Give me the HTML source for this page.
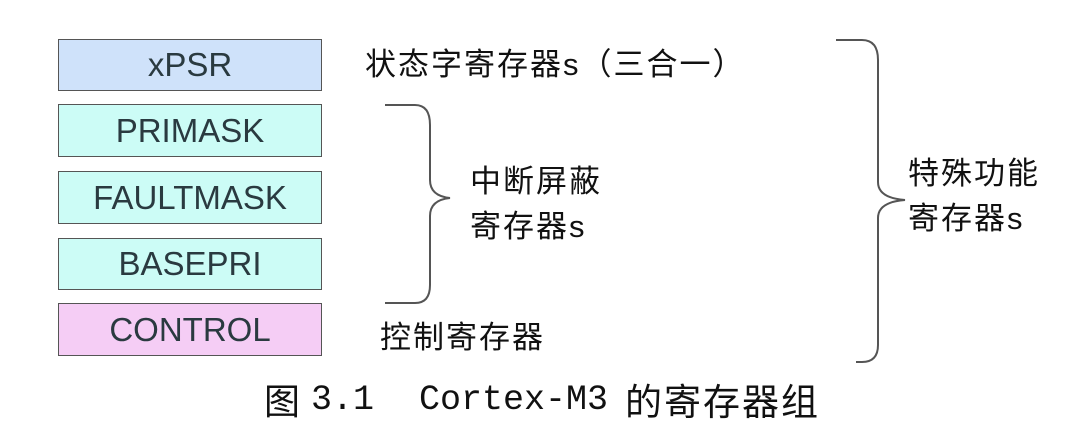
<!DOCTYPE html>
<html><head><meta charset="utf-8"><style>
body{margin:0;width:1078px;height:423px;background:#fff;position:relative;overflow:hidden;font-family:"Liberation Sans","Noto Sans CJK SC",sans-serif}
.b{position:absolute;left:58px;width:262px;border:1.5px solid #555;box-sizing:content-box;text-align:center;font-size:33px;color:#2a3a40}
.t{position:absolute;font-size:31px;letter-spacing:2px;color:#111;white-space:nowrap;line-height:1}
.c{position:absolute;top:381px;line-height:1;white-space:nowrap;color:#111}
</style></head><body>
<div class="b" style="top:39px;height:50px;line-height:50px;background:#cfe2fa">xPSR</div>
<div class="b" style="top:104px;height:51px;line-height:51px;background:#ccfcf6">PRIMASK</div>
<div class="b" style="top:171px;height:51px;line-height:51px;background:#ccfcf6">FAULTMASK</div>
<div class="b" style="top:238px;height:50px;line-height:50px;background:#ccfcf6">BASEPRI</div>
<div class="b" style="top:303px;height:51px;line-height:51px;background:#f5cdf5">CONTROL</div>
<div class="t" style="left:365px;top:49px">状态字寄存器s（三合一）</div>
<div class="t" style="left:470px;top:166px">中断屏蔽</div>
<div class="t" style="left:470px;top:211px">寄存器s</div>
<div class="t" style="left:380px;top:322px">控制寄存器</div>
<div class="t" style="left:908px;top:158px">特殊功能</div>
<div class="t" style="left:908px;top:203px">寄存器s</div>
<svg width="1078" height="423" style="position:absolute;left:0;top:0" fill="none" stroke="#555" stroke-width="2">
<path d="M385 105 H415 Q430 105 430 125 V180 Q430 196 450 198 Q430 200 430 216 V285 Q430 303 415 303 H385"/>
<path d="M836 40 H862 Q878 40 878 60 V182 Q878 198 905 200 Q878 202 878 218 V345 Q878 362 862 362 H856"/>
</svg>
<div class="c" style="left:264px;font-size:36px;font-family:'Noto Sans CJK SC',sans-serif">图</div>
<div class="c" style="left:311px;top:383px;font-size:35px;font-family:'Liberation Mono',monospace">3.1</div>
<div class="c" style="left:419px;top:383px;font-size:35px;font-family:'Liberation Mono',monospace">Cortex-M3</div>
<div class="c" style="left:625px;font-size:37px;letter-spacing:2px;font-family:'Noto Sans CJK SC',sans-serif">的寄存器组</div>
</body></html>
